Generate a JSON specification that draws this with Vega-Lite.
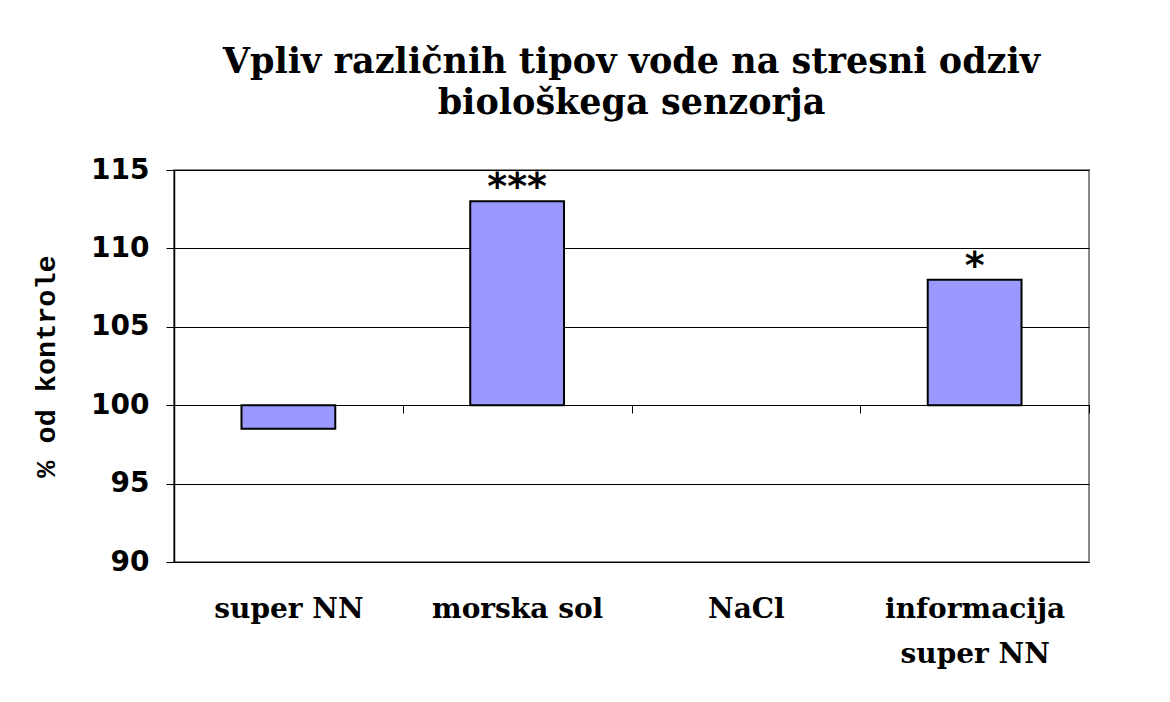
{
  "$schema": "https://vega.github.io/schema/vega-lite/v6.json",
  "width": 915,
  "height": 392,
  "autosize": "none",
  "padding": {"left": 174, "top": 170, "right": 81, "bottom": 140},
  "background": "white",
  "title": {
    "text": ["Vpliv različnih tipov vode na stresni odziv", "biološkega senzorja"],
    "font": "DejaVu Serif",
    "fontWeight": "bold",
    "fontSize": 35,
    "lineHeight": 41,
    "anchor": "middle",
    "color": "black",
    "offset": 35
  },
  "config": {
    "view": {"stroke": "#888888", "strokeWidth": 2}
  },
  "data": {
    "values": [
      {"voda": "super NN", "vrednost": 98.5, "sig": ""},
      {"voda": "morska sol", "vrednost": 113, "sig": "***"},
      {"voda": "NaCl", "vrednost": 100, "sig": ""},
      {"voda": "informacija super NN", "vrednost": 108, "sig": "*"}
    ]
  },
  "encoding": {
    "x": {
      "field": "voda",
      "type": "nominal",
      "sort": ["super NN", "morska sol", "NaCl", "informacija super NN"],
      "scale": {"domain": ["super NN", "morska sol", "NaCl", "informacija super NN"], "paddingInner": 0.59, "paddingOuter": 0.295},
      "axis": {
        "title": null,
        "orient": "bottom",
        "offset": -157,
        "domainColor": "black",
        "domainWidth": 1,
        "tickOffset": 114.375,
        "tickColor": "black",
        "tickSize": 8,
        "tickWidth": 1,
        "labelOffset": -114.375,
        "labelAngle": 0,
        "labelPadding": 182,
        "labelBaseline": "top",
        "labelFont": "DejaVu Serif",
        "labelFontWeight": "bold",
        "labelFontSize": 28,
        "labelColor": "black",
        "labelLineHeight": 45,
        "labelLimit": 400,
        "labelExpr": "datum.label == 'informacija super NN' ? ['informacija', 'super NN'] : datum.label"
      }
    }
  },
  "layer": [
    {
      "transform": [{"filter": "datum.vrednost != 100"}],
      "mark": {"type": "bar", "color": "#9999FF", "stroke": "black", "strokeWidth": 2},
      "encoding": {
        "y": {
          "field": "vrednost",
          "type": "quantitative",
          "scale": {"domain": [90, 115], "nice": false, "zero": false},
          "axis": {
            "title": "% od kontrole",
            "values": [90, 95, 100, 105, 110, 115],
            "grid": true,
            "gridColor": "black",
            "gridWidth": 1,
            "gridOpacity": 1,
            "domainColor": "black",
            "domainWidth": 1.5,
            "tickColor": "black",
            "tickSize": 8,
            "labelPadding": 17,
            "labelFont": "DejaVu Sans",
            "labelFontWeight": "bold",
            "labelFontSize": 28,
            "labelColor": "black",
            "titleFont": "Liberation Mono",
            "titleFontWeight": "bold",
            "titleFontSize": 28.5,
            "titleColor": "black",
            "titleX": -129,
            "titleY": 196,
            "titleAlign": "center",
            "titleBaseline": "middle",
            "titleAngle": 270
          }
        },
        "y2": {"datum": 100}
      }
    },
    {
      "mark": {"type": "text", "font": "DejaVu Sans", "fontWeight": "bold", "fontSize": 38, "baseline": "alphabetic", "dy": -2, "color": "black"},
      "encoding": {
        "y": {"field": "vrednost", "type": "quantitative"},
        "text": {"field": "sig"}
      }
    }
  ]
}
